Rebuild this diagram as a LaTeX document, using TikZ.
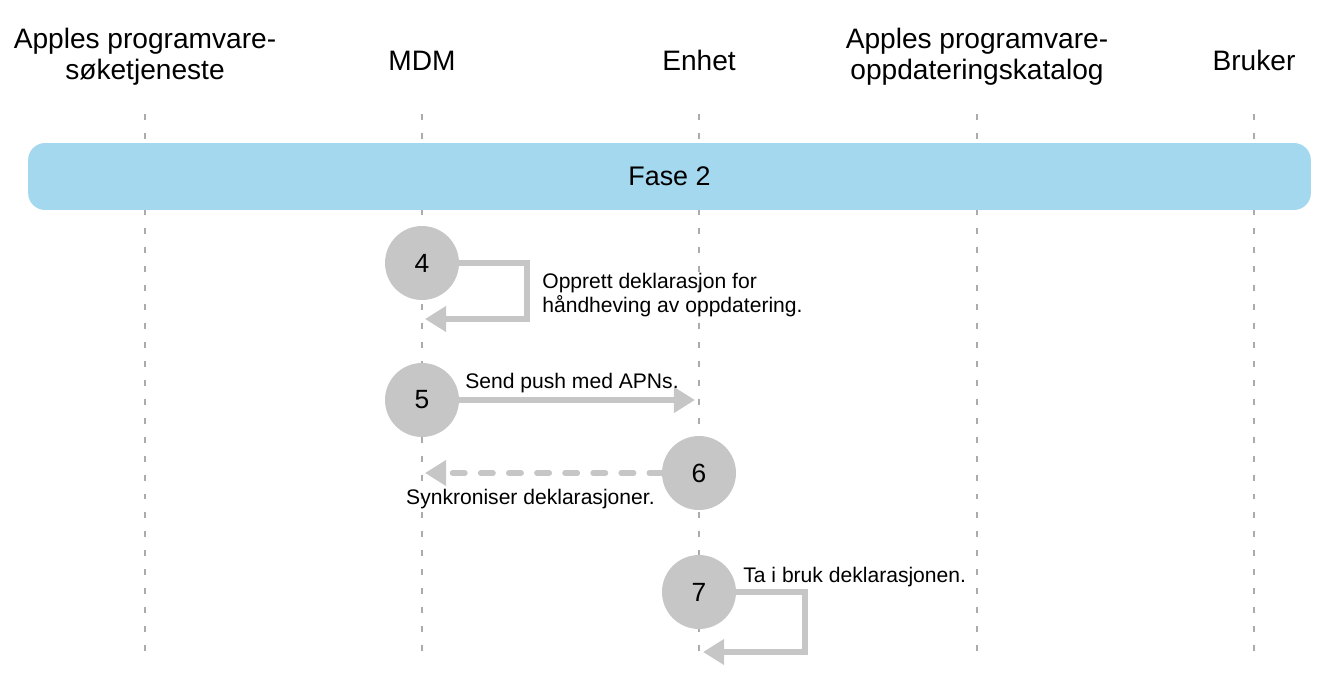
\documentclass[tikz,border=0pt]{standalone}
\usepackage{fontspec}
\setmainfont{Liberation Sans}
\usetikzlibrary{arrows.meta,positioning,calc}

\definecolor{faseblue}{HTML}{A3D8EE}
\definecolor{stepgray}{HTML}{C6C6C6}
\definecolor{lifegray}{HTML}{ABABAB}

\begin{document}
\begin{tikzpicture}[
    x=0.02cm, y=-0.02cm,
    hd/.style={align=center, inner sep=0pt, font=\fontsize{16}{17.6}\selectfont},
    fase/.style={rectangle, fill=faseblue, rounded corners=0.34cm, minimum width=25.66cm, minimum height=1.34cm, font=\fontsize{15.3}{17}\selectfont},
    num/.style={circle, fill=stepgray, minimum size=1.48cm, inner sep=0pt, font=\fontsize{15}{17}\selectfont},
    lbl/.style={align=left, inner sep=0pt, font=\fontsize{12}{13.6}\selectfont},
    life/.style={draw=lifegray, line width=0.85pt, dash pattern=on 3.4pt off 7.4pt},
    arr/.style={draw=stepgray, line width=3.2pt, -{Triangle[length=12pt, width=14pt]}},
    arrd/.style={arr, dash pattern=on 7pt off 9pt, line cap=round}
]
    \useasboundingbox (0,0) rectangle (1319,673);

    % lifelines
    \foreach \x/\n in {145/a,422/b,699/c,977/d,1254/e} {
        \coordinate (t\n) at (\x,114);
        \coordinate (b\n) at (\x,652);
        \draw [life] (t\n) -- (b\n);
    }

    % headers
    \node [hd, anchor=base] (hsok) at (145,79) {Apples programvare-\\søketjeneste};
    \node [hd, anchor=base] (hmdm) at (422,70) {MDM};
    \node [hd, anchor=base] (henh) at (699,70) {Enhet};
    \node [hd, anchor=base] (hkat) at (977,79) {Apples programvare-\\oppdateringskatalog};
    \node [hd, anchor=base] (hbru) at (1254,70) {Bruker};

    \node [fase] (fase) at (669.5,176.5) {Fase 2};

    % steps
    \node [num] (s4) at (422,263) {4};
    \node [num] (s5) at (422,400) {5};
    \node [num] (s6) at (699,473) {6};
    \node [num] (s7) at (699,592) {7};

    \coordinate (e4) at (425,319);
    \coordinate (e5) at (695,400);
    \coordinate (e6) at (425,473);
    \coordinate (e7) at (703,652);

    \draw [arr] (s4.east) -- (527,263) -- (527,319) -- (e4);
    \draw [arr] (s5.east) -- (e5);
    \draw [arrd] (s6.west) -- (e6);
    \draw [arr] (s7.east) -- (805,592) -- (805,652) -- (e7);

    \node [lbl, anchor=base west] (l4) at (542,312) {Opprett deklarasjon for\\håndheving av oppdatering.};
    \node [lbl, anchor=base west] (l5) at (465,388) {Send push med APNs.};
    \node [lbl, anchor=base east] (l6) at (655,504) {Synkroniser deklarasjoner.};
    \node [lbl, anchor=base west] (l7) at (743,582) {Ta i bruk deklarasjonen.};
\end{tikzpicture}
\end{document}
